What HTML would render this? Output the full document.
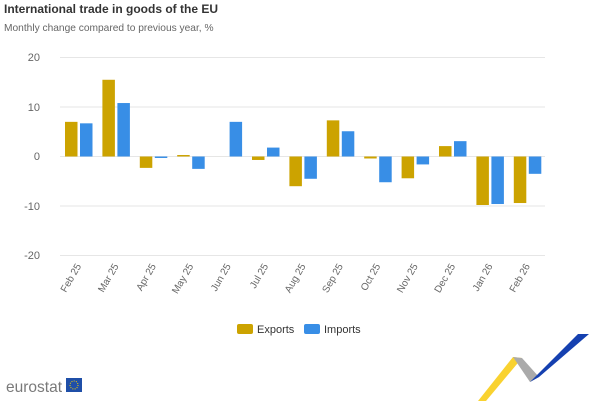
<!DOCTYPE html>
<html><head><meta charset="utf-8"><style>
body{margin:0;width:600px;height:401px;background:#fff;overflow:hidden;font-family:"Liberation Sans",sans-serif}
</style></head><body>
<svg width="600" height="401" xmlns="http://www.w3.org/2000/svg" font-family="Liberation Sans, sans-serif">
<text x="4" y="13" font-size="12" font-weight="bold" fill="#333">International trade in goods of the EU</text>
<text x="4" y="31" font-size="10.2" fill="#666">Monthly change compared to previous year, %</text>
<g stroke="#e6e6e6" stroke-width="1">
<line x1="60" x2="545" y1="57.5" y2="57.5"/><line x1="60" x2="545" y1="107" y2="107"/>
<line x1="60" x2="545" y1="156.5" y2="156.5"/><line x1="60" x2="545" y1="206" y2="206"/>
<line x1="60" x2="545" y1="255.5" y2="255.5"/></g>
<g font-size="11" fill="#666" text-anchor="end">
<text x="40" y="61">20</text><text x="40" y="111">10</text><text x="40" y="160">0</text>
<text x="40" y="210">-10</text><text x="40" y="259">-20</text></g>
<g id="bars"></g>
<g id="labels" font-size="10" fill="#666"></g>
<rect x="237" y="324" width="16" height="10" rx="2" fill="#cca300"/>
<text x="257" y="333" font-size="11" fill="#333">Exports</text>
<rect x="304" y="324" width="16" height="10" rx="2" fill="#388ee6"/>
<text x="324" y="333" font-size="11" fill="#333">Imports</text>
<text x="6" y="392" font-size="16" fill="#7a7a7a" textLength="56" lengthAdjust="spacingAndGlyphs">eurostat</text>
<rect x="66" y="378" width="16" height="14" fill="#1f4fa8"/>
<circle cx="74" cy="385" r="4" fill="none" stroke="#f5d000" stroke-width="1" stroke-dasharray="1 1.3"/>
<polygon points="478,401 486,401 522,358 513,357" fill="#f8cd1a" opacity="0.9"/>
<polygon points="513,357 522,358 539,377 530,382" fill="#aaa"/>
<polygon points="530,382 539,377 589,334 578,334" fill="#1540b0"/>
</svg>
<script>
const E=[7,15.5,-2.3,0.3,0,-0.7,-6,7.3,-0.4,-4.4,2.1,-9.8,-9.4];
const I=[6.7,10.8,-0.3,-2.5,7,1.8,-4.5,5.1,-5.2,-1.6,3.1,-9.6,-3.5];
const L=["Feb 25","Mar 25","Apr 25","May 25","Jun 25","Jul 25","Aug 25","Sep 25","Oct 25","Nov 25","Dec 25","Jan 26","Feb 26"];
const ns="http://www.w3.org/2000/svg",z=156.5,k=4.95;
const b=document.getElementById("bars"),lb=document.getElementById("labels");
function r(x,v,c){const e=document.createElementNS(ns,"rect");const h=Math.abs(v)*k;
e.setAttribute("x",x);e.setAttribute("y",v>=0?z-h:z);e.setAttribute("width",12.5);e.setAttribute("height",Math.max(h,0.01));e.setAttribute("fill",c);b.appendChild(e);}
for(let i=0;i<13;i++){const c=78.5+i*37.4;r(c-13.5,E[i],"#cca300");r(c+1.5,I[i],"#388ee6");
const t=document.createElementNS(ns,"text");t.setAttribute("text-anchor","end");
t.setAttribute("transform",`translate(${c+3},266) rotate(-60)`);t.textContent=L[i];lb.appendChild(t);}
</script>
</body></html>
